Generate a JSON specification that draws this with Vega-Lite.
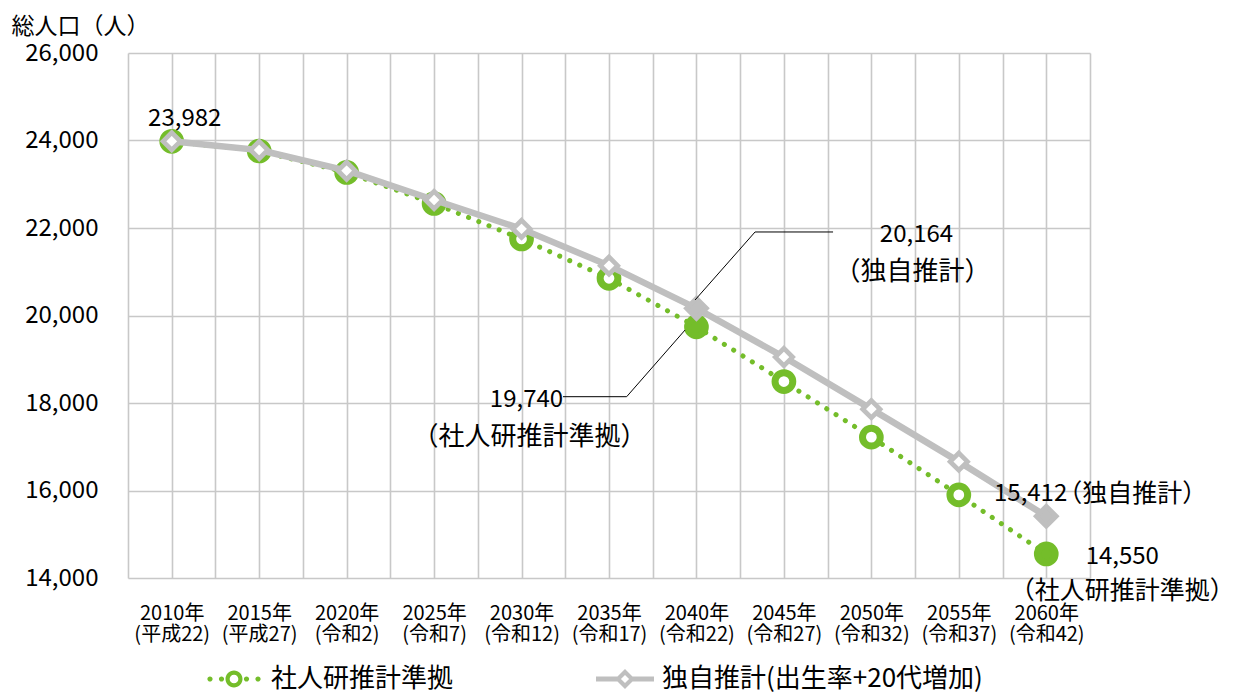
{
  "$schema": "https://vega.github.io/schema/vega-lite/v6.json",
  "autosize": {"type": "none"},
  "width": 962,
  "height": 525,
  "padding": {"left": 128, "top": 53, "right": 152, "bottom": 117},
  "background": "white",
  "config": {
    "view": {"stroke": null},
    "font": "Noto Sans CJK JP",
    "text": {"font": "Noto Sans CJK JP"}
  },
  "datasets": {
    "pop": [
      {"year": 2010, "series": "社人研推計準拠", "value": 23982},
      {"year": 2015, "series": "社人研推計準拠", "value": 23760},
      {"year": 2020, "series": "社人研推計準拠", "value": 23270},
      {"year": 2025, "series": "社人研推計準拠", "value": 22560},
      {"year": 2030, "series": "社人研推計準拠", "value": 21750},
      {"year": 2035, "series": "社人研推計準拠", "value": 20850},
      {"year": 2040, "series": "社人研推計準拠", "value": 19740},
      {"year": 2045, "series": "社人研推計準拠", "value": 18490},
      {"year": 2050, "series": "社人研推計準拠", "value": 17220},
      {"year": 2055, "series": "社人研推計準拠", "value": 15900},
      {"year": 2060, "series": "社人研推計準拠", "value": 14550},
      {"year": 2010, "series": "独自推計(出生率+20代増加)", "value": 23982},
      {"year": 2015, "series": "独自推計(出生率+20代増加)", "value": 23783},
      {"year": 2020, "series": "独自推計(出生率+20代増加)", "value": 23310},
      {"year": 2025, "series": "独自推計(出生率+20代増加)", "value": 22640},
      {"year": 2030, "series": "独自推計(出生率+20代増加)", "value": 21980},
      {"year": 2035, "series": "独自推計(出生率+20代増加)", "value": 21140},
      {"year": 2040, "series": "独自推計(出生率+20代増加)", "value": 20164},
      {"year": 2045, "series": "独自推計(出生率+20代増加)", "value": 19050},
      {"year": 2050, "series": "独自推計(出生率+20代増加)", "value": 17860},
      {"year": 2055, "series": "独自推計(出生率+20代増加)", "value": 16660},
      {"year": 2060, "series": "独自推計(出生率+20代増加)", "value": 15412}
    ],
    "leaders": [
      {"seg": "a", "o": 1, "year": 2039.92, "value": 20354},
      {"seg": "a", "o": 2, "year": 2043.35, "value": 21909},
      {"seg": "a", "o": 3, "year": 2047.81, "value": 21909},
      {"seg": "b", "o": 1, "year": 2039.35, "value": 19669},
      {"seg": "b", "o": 2, "year": 2036.01, "value": 18144},
      {"seg": "b", "o": 3, "year": 2032.37, "value": 18144}
    ]
  },
  "data": {"name": "pop"},
  "encoding": {
    "x": {
      "field": "year",
      "type": "quantitative",
      "scale": {"domain": [2007.5, 2062.5], "nice": false, "zero": false},
      "axis": {
        "title": null,
        "values": [2007.5, 2010, 2012.5, 2015, 2017.5, 2020, 2022.5, 2025, 2027.5, 2030, 2032.5, 2035, 2037.5, 2040, 2042.5, 2045, 2047.5, 2050, 2052.5, 2055, 2057.5, 2060, 2062.5],
        "labelExpr": "datum.value % 5 == 0 ? [datum.value + '年', datum.value < 2019 ? '(平成' + (datum.value - 1988) + ')' : '(令和' + (datum.value - 2018) + ')'] : ''",
        "grid": true,
        "gridColor": "#c8c8c8",
        "gridWidth": 1.6,
        "domain": false,
        "ticks": false,
        "labelFont": "Noto Sans CJK JP",
        "labelFontSize": 20,
        "labelColor": "#000000",
        "labelLineHeight": 21,
        "labelPadding": 25,
        "labelOverlap": false,
        "labelFlush": false,
        "labelBound": false
      }
    },
    "y": {
      "field": "value",
      "type": "quantitative",
      "scale": {"domain": [14000, 26000], "nice": false, "zero": false},
      "axis": {
        "values": [14000, 16000, 18000, 20000, 22000, 24000, 26000],
        "format": ",.0f",
        "grid": true,
        "gridColor": "#c8c8c8",
        "gridWidth": 1.6,
        "domain": false,
        "ticks": false,
        "labelFont": "Noto Sans CJK JP",
        "labelFontSize": 24,
        "labelColor": "#000000",
        "labelPadding": 30,
        "title": "総人口（人）",
        "titleFont": "Noto Sans CJK JP",
        "titleFontSize": 23,
        "titleFontWeight": "normal",
        "titleColor": "#000000",
        "titleAngle": 0,
        "titleAlign": "left",
        "titleBaseline": "middle",
        "titleX": -117,
        "titleY": -27
      }
    }
  },
  "layer": [
    {
      "transform": [{"filter": "datum.series == '社人研推計準拠'"}],
      "mark": {"type": "line", "strokeWidth": 5, "strokeDash": [0.1, 10.9], "strokeCap": "round"},
      "encoding": {
        "color": {
          "field": "series",
          "type": "nominal",
          "scale": {"domain": ["社人研推計準拠", "独自推計(出生率+20代増加)"], "range": ["#74bd2a", "#bfbfbf"]},
          "legend": {
            "title": null,
            "orient": "none",
            "legendX": 77,
            "legendY": 597,
            "direction": "horizontal",
            "padding": 0,
            "symbolSize": 3364,
            "labelFont": "Noto Sans CJK JP",
            "labelFontSize": 26,
            "labelColor": "#000000",
            "labelOffset": 8,
            "columnPadding": 142,
            "labelLimit": 500,
            "encode": {
              "symbols": {
                "update": {
                  "shape": {"signal": "datum.value == '社人研推計準拠' ? 'M-0.918,0a0.09,0.09 0 1,0 0.18,0a0.09,0.09 0 1,0 -0.18,0Z M-0.521,0a0.09,0.09 0 1,0 0.18,0a0.09,0.09 0 1,0 -0.18,0Z M0.341,0a0.09,0.09 0 1,0 0.18,0a0.09,0.09 0 1,0 -0.18,0Z M0.738,0a0.09,0.09 0 1,0 0.18,0a0.09,0.09 0 1,0 -0.18,0Z M-0.293,0a0.293,0.293 0 1,0 0.586,0a0.293,0.293 0 1,0 -0.586,0Z M-0.15,0a0.15,0.15 0 1,1 0.3,0a0.15,0.15 0 1,1 -0.3,0Z' : 'M-1,-0.086L-0.2,-0.086L-0.2,0.086L-1,0.086Z M0.2,-0.086L1,-0.086L1,0.086L0.2,0.086Z M0,-0.345L0.345,0L0,0.345L-0.345,0Z M0,-0.14L-0.14,0L0,0.14L0.14,0Z'"},
                  "fill": {"signal": "datum.value == '社人研推計準拠' ? '#74bd2a' : '#bfbfbf'"},
                  "stroke": {"value": "transparent"},
                  "strokeWidth": {"value": 0},
                  "strokeDash": {"value": []},
                  "opacity": {"value": 1},
                  "fillOpacity": {"value": 1}
                }
              }
            }
          }
        }
      }
    },
    {
      "transform": [{"filter": "datum.series == '社人研推計準拠'"}],
      "mark": {"type": "point", "shape": "circle", "size": 314, "strokeWidth": 7, "stroke": "#74bd2a", "opacity": 1},
      "encoding": {
        "fill": {
          "condition": {"test": "datum.year == 2040 || datum.year == 2060", "value": "#74bd2a"},
          "value": "#ffffff"
        }
      }
    },
    {
      "transform": [{"filter": "datum.series != '社人研推計準拠'"}],
      "mark": {"type": "line", "strokeWidth": 6.5, "strokeJoin": "round"},
      "encoding": {
        "color": {"field": "series", "type": "nominal"}
      }
    },
    {
      "transform": [{"filter": "datum.series != '社人研推計準拠'"}],
      "mark": {"type": "point", "shape": "diamond", "strokeWidth": 4.7, "stroke": "#bfbfbf", "opacity": 1},
      "encoding": {
        "fill": {
          "condition": {"test": "datum.year == 2040 || datum.year == 2060", "value": "#bfbfbf"},
          "value": "#ffffff"
        },
        "size": {
          "condition": {"test": "datum.year == 2040 || datum.year == 2060", "value": 400},
          "value": 300
        }
      }
    },
    {
      "data": {"name": "leaders"},
      "mark": {"type": "line", "color": "#000000", "strokeWidth": 1},
      "encoding": {
        "detail": {"field": "seg", "type": "nominal"},
        "order": {"field": "o", "type": "quantitative"}
      }
    },
    {
      "transform": [{"filter": "datum.year == 2010 && datum.series != '社人研推計準拠'"}],
      "mark": {"type": "text", "fontSize": 24, "color": "#000000", "align": "center", "baseline": "middle", "dx": 13, "dy": -22},
      "encoding": {"text": {"field": "value", "type": "quantitative", "format": ","}}
    },
    {
      "transform": [{"filter": "datum.year == 2040 && datum.series != '社人研推計準拠'"}],
      "mark": {"type": "text", "fontSize": 24, "color": "#000000", "align": "center", "baseline": "middle", "dx": 220, "dy": -73},
      "encoding": {"text": {"field": "value", "type": "quantitative", "format": ","}}
    },
    {
      "transform": [{"filter": "datum.year == 2040 && datum.series != '社人研推計準拠'"}],
      "mark": {"type": "text", "fontSize": 26, "color": "#000000", "align": "center", "baseline": "middle", "dx": 216, "dy": -36, "text": "（独自推計）"}
    },
    {
      "transform": [{"filter": "datum.year == 2040 && datum.series == '社人研推計準拠'"}],
      "mark": {"type": "text", "fontSize": 24, "color": "#000000", "align": "center", "baseline": "middle", "dx": -170, "dy": 73},
      "encoding": {"text": {"field": "value", "type": "quantitative", "format": ","}}
    },
    {
      "transform": [{"filter": "datum.year == 2040 && datum.series == '社人研推計準拠'"}],
      "mark": {"type": "text", "fontSize": 26, "color": "#000000", "align": "center", "baseline": "middle", "dx": -167, "dy": 110, "text": "（社人研推計準拠）"}
    },
    {
      "transform": [{"filter": "datum.year == 2060 && datum.series != '社人研推計準拠'"}],
      "mark": {"type": "text", "fontSize": 24, "color": "#000000", "align": "right", "baseline": "middle", "dx": 21, "dy": -22},
      "encoding": {"text": {"field": "value", "type": "quantitative", "format": ","}}
    },
    {
      "transform": [{"filter": "datum.year == 2060 && datum.series != '社人研推計準拠'"}],
      "mark": {"type": "text", "fontSize": 25, "color": "#000000", "align": "left", "baseline": "middle", "dx": 11, "dy": -22, "text": "（独自推計）"}
    },
    {
      "transform": [{"filter": "datum.year == 2060 && datum.series == '社人研推計準拠'"}],
      "mark": {"type": "text", "fontSize": 24, "color": "#000000", "align": "center", "baseline": "middle", "dx": 76, "dy": 3},
      "encoding": {"text": {"field": "value", "type": "quantitative", "format": ","}}
    },
    {
      "transform": [{"filter": "datum.year == 2060 && datum.series == '社人研推計準拠'"}],
      "mark": {"type": "text", "fontSize": 25, "color": "#000000", "align": "center", "baseline": "middle", "dx": 76, "dy": 37, "text": "（社人研推計準拠）"}
    }
  ]
}
